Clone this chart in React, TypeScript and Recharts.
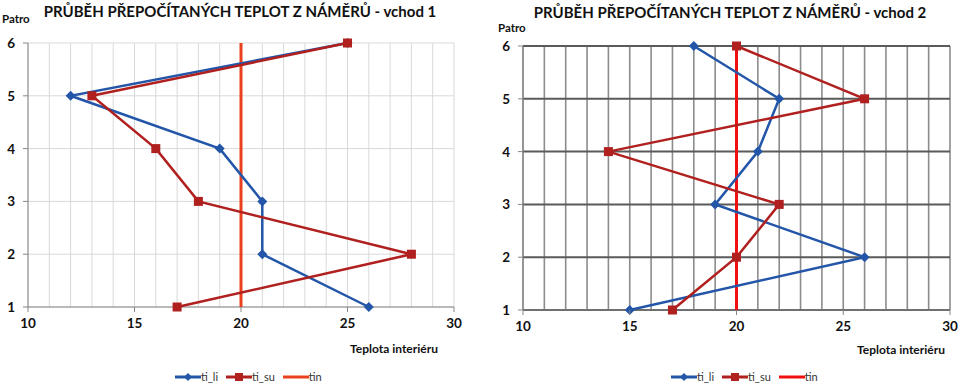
import React from 'react';
import { ScatterChart, Scatter, XAxis, YAxis, CartesianGrid } from 'recharts';

const floors = [1, 2, 3, 4, 5, 6];
const tempTicks = [10, 11, 12, 13, 14, 15, 16, 17, 18, 19, 20, 21, 22, 23, 24, 25, 26, 27, 28, 29, 30];

const v1_ti_li = [26, 21, 21, 19, 12, 25];
const v1_ti_su = [17, 28, 18, 16, 13, 25];
const v2_ti_li = [15, 26, 19, 21, 22, 18];
const v2_ti_su = [17, 20, 22, 14, 26, 20];
const tinValue = 20;
const tinFloors = [1, 6];

const title1 = 'PRŮBĚH PŘEPOČÍTANÝCH TEPLOT Z NÁMĚRŮ - vchod 1';
const title2 = 'PRŮBĚH PŘEPOČÍTANÝCH TEPLOT Z NÁMĚRŮ - vchod 2';
const yLabel = 'Patro';
const xLabel = 'Teplota interiéru';
const seriesNames = ['ti_li', 'ti_su', 'tin'];

const BLUE = '#2356A8';
const RED = '#B0201E';

const FONT = 'Lato, "Open Sans", sans-serif';

const toPts = (vals: number[]) => vals.map((t, i) => ({ t, f: floors[i] }));
const tinPts = tinFloors.map((f) => ({ t: tinValue, f }));

const Diamond = (p: any) => {
  const { cx, cy } = p;
  const r = 5;
  return <polygon points={`${cx},${cy - r} ${cx + r},${cy} ${cx},${cy + r} ${cx - r},${cy}`} fill={BLUE} />;
};
const Square = (p: any) => {
  const { cx, cy } = p;
  const s = 9;
  return <rect x={cx - s / 2} y={cy - s / 2} width={s} height={s} fill={RED} />;
};
const NoShape = () => <g />;

const XTick = (p: any) => {
  const { x, y, payload } = p;
  const v = payload.value;
  if (v % 5 !== 0) return <g />;
  return (
    <g>
      <line x1={x} x2={x} y1={y - 8} y2={y - 3} stroke="#868686" />
      <text x={x} y={y + 13} textAnchor="middle" fontSize={13.5} fontWeight={700} fill="#111" fontFamily={FONT}>
        {v}
      </text>
    </g>
  );
};

const YTick = (p: any) => {
  const { x, y, payload } = p;
  return (
    <text x={x - 6} y={y + 5} textAnchor="end" fontSize={13.5} fontWeight={700} fill="#111" fontFamily={FONT}>
      {payload.value}
    </text>
  );
};

type PanelProps = {
  left: number;
  title: string;
  titleX: number;
  titleY: number;
  patroX: number;
  patroY: number;
  plotLeft: number;
  plotRight: number;
  plotTop: number;
  plotBottom: number;
  li: number[];
  su: number[];
  tinColor: string;
  gridV: string;
  gridVW: number;
  gridH: string;
  gridHW: number;
  xLabelX: number;
  xLabelY: number;
  legendX: number;
  legendY: number;
};

const LegendItem = ({ color, marker, label }: { color: string; marker: string; label: string }) => (
  <span style={{ display: 'inline-flex', alignItems: 'center', marginRight: 8 }}>
    <svg width={26} height={10}>
      <line x1={0} x2={26} y1={5} y2={5} stroke={color} strokeWidth={3} />
      {marker === 'diamond' && <polygon points="13,1 17,5 13,9 9,5" fill={color} />}
      {marker === 'square' && <rect x={9} y={1} width={8} height={8} fill={color} />}
    </svg>
    <span style={{ fontSize: 11, color: '#333', fontFamily: FONT }}>{label}</span>
  </span>
);

const Panel = (pp: PanelProps) => {
  const W = 480;
  const H = 388;
  const yAxisW = 20;
  const xAxisH = 30;
  const margin = {
    left: pp.plotLeft - yAxisW,
    right: W - pp.plotRight,
    top: pp.plotTop,
    bottom: H - pp.plotBottom - xAxisH,
  };
  return (
    <div style={{ position: 'absolute', left: pp.left, top: 0, width: W, height: H }}>
      <ScatterChart width={W} height={H} margin={margin}>
        <CartesianGrid stroke={pp.gridV} strokeWidth={pp.gridVW} horizontal={false} vertical={true} />
        <CartesianGrid stroke={pp.gridH} strokeWidth={pp.gridHW} horizontal={true} vertical={false} />
        <XAxis
          type="number"
          dataKey="t"
          domain={[10, 30]}
          ticks={tempTicks}
          interval={0}
          height={xAxisH}
          allowDataOverflow
          stroke="#868686"
          tickLine={false}
          tick={<XTick />}
        />
        <YAxis
          type="number"
          dataKey="f"
          domain={[1, 6]}
          ticks={floors}
          interval={0}
          width={yAxisW}
          stroke="#868686"
          tickSize={5}
          tick={<YTick />}
        />
        <Scatter
          name={seriesNames[2]}
          data={tinPts}
          line={{ stroke: pp.tinColor, strokeWidth: 3 }}
          lineType="joint"
          shape={NoShape}
          isAnimationActive={false}
        />
        <Scatter
          name={seriesNames[0]}
          data={toPts(pp.li)}
          line={{ stroke: BLUE, strokeWidth: 2.5 }}
          lineType="joint"
          shape={Diamond}
          isAnimationActive={false}
        />
        <Scatter
          name={seriesNames[1]}
          data={toPts(pp.su)}
          line={{ stroke: RED, strokeWidth: 2.5 }}
          lineType="joint"
          shape={Square}
          isAnimationActive={false}
        />
      </ScatterChart>
      <div
        style={{
          position: 'absolute',
          left: 0,
          width: W,
          top: pp.titleY - 10,
          textAlign: 'center',
          paddingLeft: (pp.titleX - W / 2) * 2,
          boxSizing: 'border-box',
          fontFamily: FONT,
          fontWeight: 700,
          fontSize: 15,
          color: '#111',
          whiteSpace: 'nowrap',
        }}
      >
        {pp.title}
      </div>
      <div
        style={{
          position: 'absolute',
          left: pp.patroX,
          top: pp.patroY - 8,
          fontFamily: FONT,
          fontWeight: 700,
          fontSize: 11.5,
          color: '#111',
        }}
      >
        {yLabel}
      </div>
      <div
        style={{
          position: 'absolute',
          left: pp.xLabelX,
          top: pp.xLabelY - 8,
          fontFamily: FONT,
          fontWeight: 700,
          fontSize: 12,
          color: '#111',
          whiteSpace: 'nowrap',
        }}
      >
        {xLabel}
      </div>
      <div style={{ position: 'absolute', left: pp.legendX, top: pp.legendY - 7, display: 'flex', whiteSpace: 'nowrap' }}>
        <LegendItem color={BLUE} marker="diamond" label={seriesNames[0]} />
        <LegendItem color={RED} marker="square" label={seriesNames[1]} />
        <LegendItem color={pp.tinColor} marker="none" label={seriesNames[2]} />
      </div>
    </div>
  );
};

export default function App() {
  return (
    <div style={{ position: 'absolute', left: 0, top: 0, width: 960, height: 388, background: '#fff', overflow: 'hidden' }}>
      <Panel
        left={0}
        title={title1}
        titleX={235}
        titleY={12}
        patroX={2}
        patroY={20}
        plotLeft={28}
        plotRight={454}
        plotTop={43}
        plotBottom={307}
        li={v1_ti_li}
        su={v1_ti_su}
        tinColor="#E8411C"
        gridV="#D9D9D9"
        gridVW={1}
        gridH="#D9D9D9"
        gridHW={1}
        xLabelX={350}
        xLabelY={349}
        legendX={175}
        legendY={377}
      />
      <Panel
        left={480}
        title={title2}
        titleX={250}
        titleY={13}
        patroX={18}
        patroY={29}
        plotLeft={43}
        plotRight={470}
        plotTop={46}
        plotBottom={310}
        li={v2_ti_li}
        su={v2_ti_su}
        tinColor="#F01010"
        gridV="#8C8C8C"
        gridVW={1.6}
        gridH="#5A5A5A"
        gridHW={2}
        xLabelX={377}
        xLabelY={350}
        legendX={191}
        legendY={377}
      />
    </div>
  );
}
